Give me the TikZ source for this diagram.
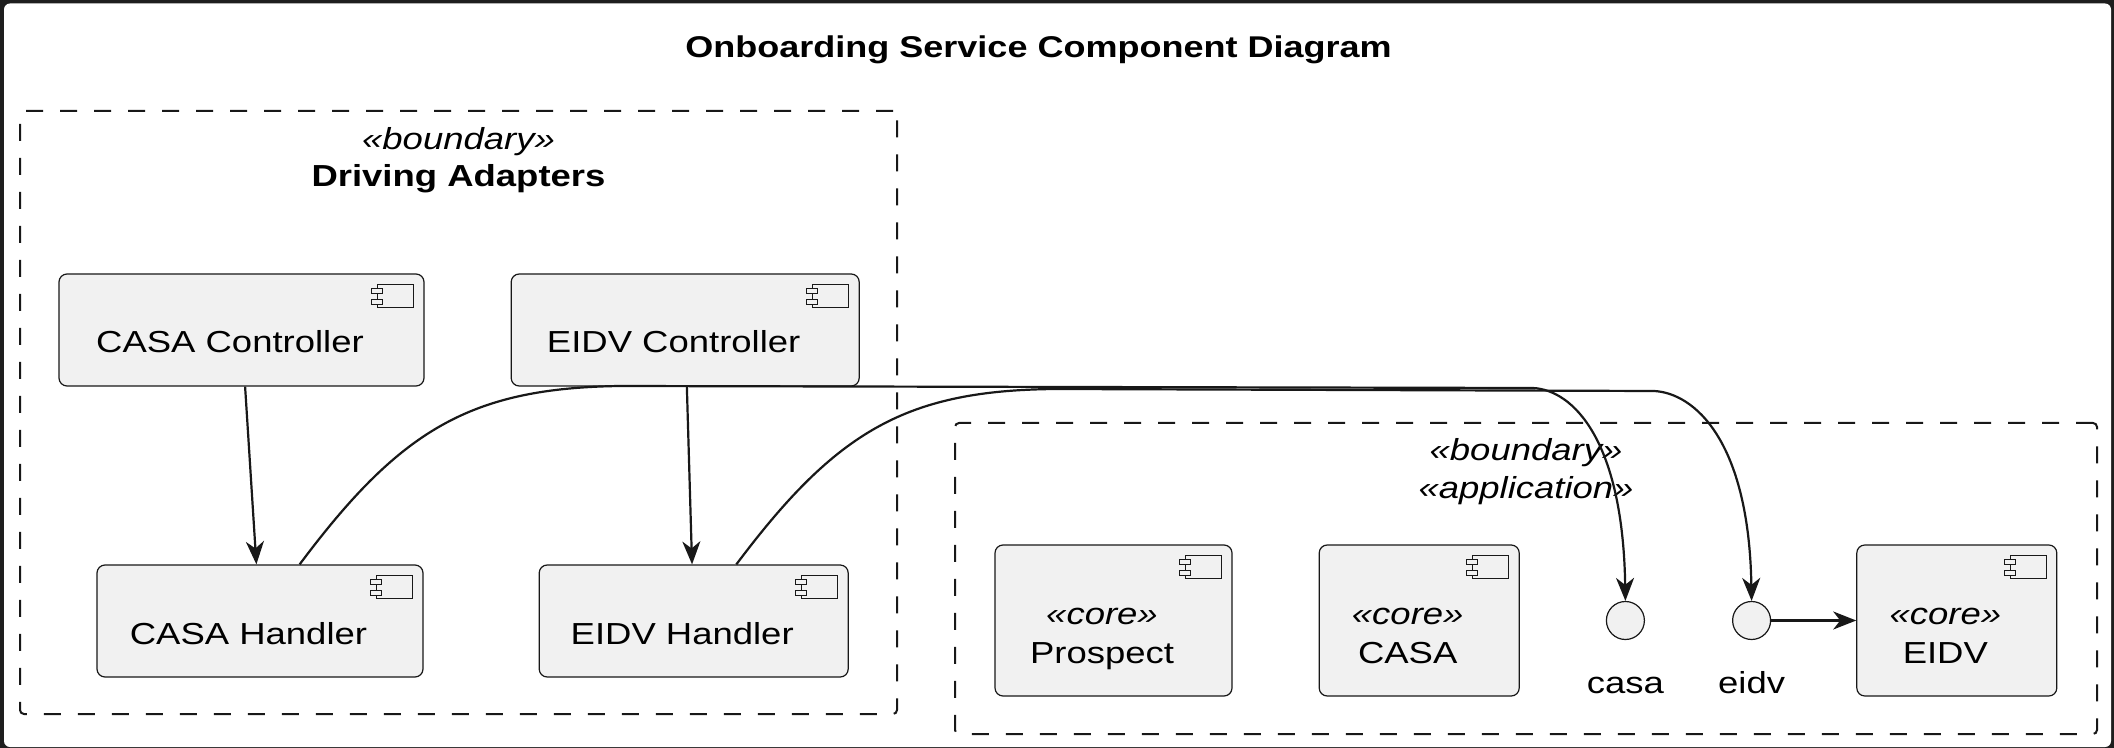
\documentclass[tikz,border=0pt]{standalone}
\usepackage{fontspec}
\setmainfont{Liberation Sans}[FakeStretch=1.2]
\usetikzlibrary{positioning,arrows.meta}
\definecolor{compfill}{HTML}{F1F1F1}
\definecolor{linecol}{HTML}{181818}
\definecolor{framecol}{HTML}{1E1E1E}
\newcommand{\umlsize}{\fontsize{15.2}{19.5}\selectfont}

\begin{document}
\begin{tikzpicture}[x=0.5pt,y=-0.5pt,font=\umlsize,
  comp/.style={draw=linecol,fill=compfill,rounded corners=4pt,inner sep=0pt,line width=0.6pt,minimum height=56pt},
  core/.style={comp,minimum height=75.5pt,minimum width=100pt},
  iface/.style={draw=linecol,fill=compfill,circle,inner sep=0pt,minimum size=19pt,line width=0.6pt},
  bnd/.style={draw=linecol,line width=1pt,dash pattern=on 8.5pt off 8.5pt,rounded corners=2pt,inner sep=0pt},
  txt/.style={text height=11pt,text depth=3.2pt},
  ctext/.style={txt,xshift=-5.75pt,yshift=-7.6pt},
  ster/.style={txt,xshift=-5.75pt,yshift=1.9pt,font=\umlsize\itshape},
  cname/.style={txt,xshift=-5.75pt,yshift=-17.6pt},
  ilabel/.style={txt,yshift=-32.6pt},
  link/.style={draw=linecol,line width=1.1pt,-{Stealth[length=11.5pt,width=9pt,inset=3.5pt]}}]
\useasboundingbox (0,0) rectangle (2114,748);
\fill[framecol] (0,0) rectangle (2114,748);
\fill[white,rounded corners=3pt] (4,3.5) rectangle (2111,747);

\node[font=\fontsize{15}{17}\selectfont\bfseries,anchor=base] (title) at (1038.5,58) {Onboarding Service Component Diagram};

\node[bnd,minimum width=438.5pt,minimum height=301.5pt] (drvbnd) at (458.5,412.5) {};
\node[anchor=base,font=\umlsize\itshape] (drvster) at (458.5,150) {«boundary»};
\node[anchor=base,font=\umlsize\bfseries] (drvname) at (458.5,187) {Driving Adapters};

\node[bnd,minimum width=571pt,minimum height=155.5pt] (appbnd) at (1526,578.5) {};
\node[anchor=base,font=\umlsize\itshape] (appster) at (1526,460) {«boundary»};
\node[anchor=base,font=\umlsize\itshape] (appster2) at (1526,498) {«application»};

\node[comp,minimum width=182.5pt,label={[ctext]center:CASA Controller}] (casactl) at (241.5,330) {};
\node[comp,minimum width=174pt,right=43pt of casactl,label={[ctext]center:EIDV Controller}] (eidvctl) {};
\node[comp,minimum width=163pt,label={[ctext]center:CASA Handler}] (casahdl) at (260,621) {};
\node[comp,minimum width=154.5pt,right=57.5pt of casahdl,label={[ctext]center:EIDV Handler}] (eidvhdl) {};

\node[core,minimum width=118.5pt,label={[ster]center:«core»},label={[cname]center:Prospect}] (prospect) at (1113.5,620.5) {};
\node[core,right=43pt of prospect,label={[ster]center:«core»},label={[cname]center:CASA}] (casacore) {};
\node[iface,right=43pt of casacore,label={[ilabel]center:casa}] (casa) {};
\node[iface,right=43.5pt of casa,label={[ilabel]center:eidv}] (eidv) {};
\node[core,right=42.5pt of eidv,label={[ster]center:«core»},label={[cname]center:EIDV}] (eidvcore) {};

\foreach \n in {casactl,eidvctl,casahdl,eidvhdl,prospect,casacore,eidvcore} {
  \draw[linecol,fill=compfill,line width=0.5pt] ([shift={(-47,11)}]\n.north east) rectangle ([shift={(-11,34)}]\n.north east);
  \draw[linecol,fill=compfill,line width=0.5pt] ([shift={(-53,15)}]\n.north east) rectangle ([shift={(-42,20)}]\n.north east);
  \draw[linecol,fill=compfill,line width=0.5pt] ([shift={(-53,26)}]\n.north east) rectangle ([shift={(-42,31)}]\n.north east);
}

\draw[link] (casactl) -- (casahdl);
\draw[link] (eidvctl) -- (eidvhdl);
\draw[link] (eidv) -- (eidvcore);
\draw[link] (casahdl.55) .. controls (400,430) and (470,388) .. (620,386) -- (1533,388) .. controls (1573,390) and (1623,440) .. (casa.north);
\draw[link] (eidvhdl.53) .. controls (837,430) and (907,390) .. (1057,389) -- (1654,391) .. controls (1694,393) and (1749,440) .. (eidv.north);
\end{tikzpicture}
\end{document}
